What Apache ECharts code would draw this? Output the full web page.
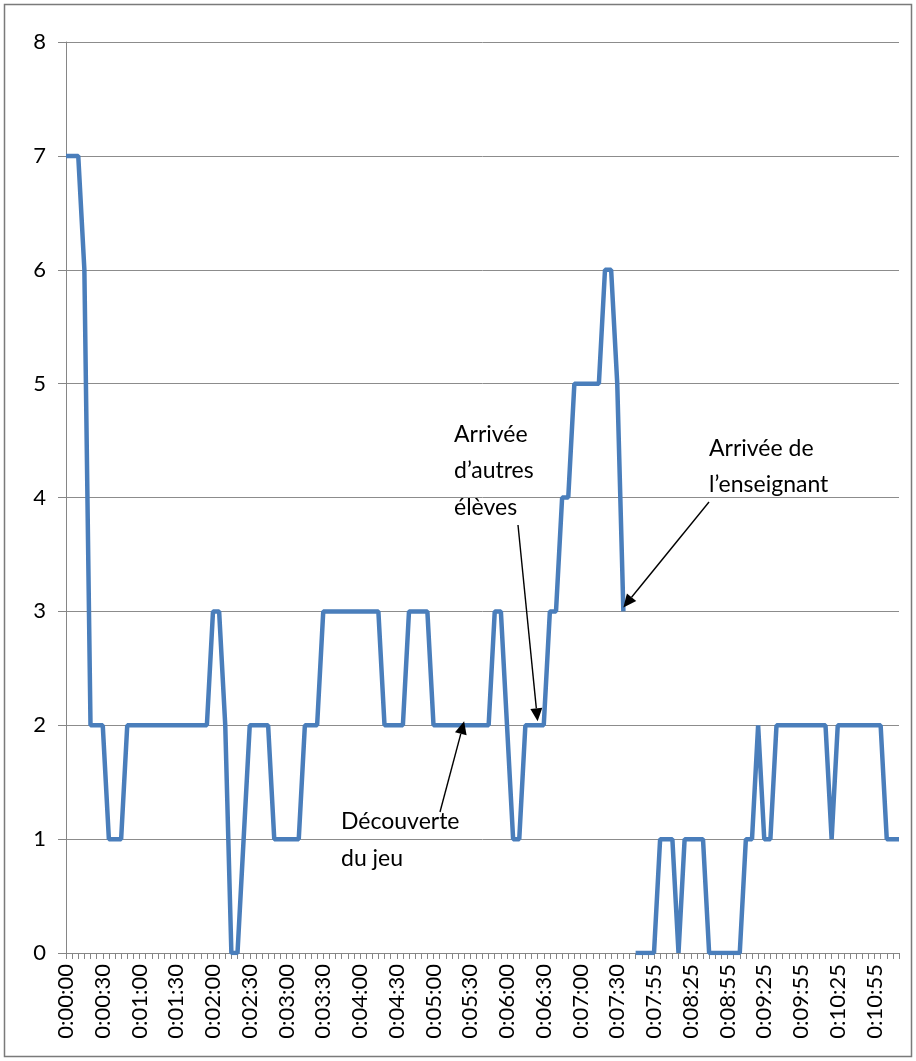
<!DOCTYPE html>
<html>
<head>
<meta charset="utf-8">
<script src="https://cdn.jsdelivr.net/npm/echarts@6/dist/echarts.min.js"></script>
<style>
html,body{margin:0;padding:0;background:#fff;}
#c{width:916px;height:1061px;}
</style>
</head>
<body>
<div id="c"></div>
<script>
// Time categories (5 s steps; one empty row where the recording was interrupted)
const times = [
"0:00:00","0:00:05","0:00:10","0:00:15","0:00:20","0:00:25","0:00:30","0:00:35","0:00:40","0:00:45",
"0:00:50","0:00:55","0:01:00","0:01:05","0:01:10","0:01:15","0:01:20","0:01:25","0:01:30","0:01:35",
"0:01:40","0:01:45","0:01:50","0:01:55","0:02:00","0:02:05","0:02:10","0:02:15","0:02:20","0:02:25",
"0:02:30","0:02:35","0:02:40","0:02:45","0:02:50","0:02:55","0:03:00","0:03:05","0:03:10","0:03:15",
"0:03:20","0:03:25","0:03:30","0:03:35","0:03:40","0:03:45","0:03:50","0:03:55","0:04:00","0:04:05",
"0:04:10","0:04:15","0:04:20","0:04:25","0:04:30","0:04:35","0:04:40","0:04:45","0:04:50","0:04:55",
"0:05:00","0:05:05","0:05:10","0:05:15","0:05:20","0:05:25","0:05:30","0:05:35","0:05:40","0:05:45",
"0:05:50","0:05:55","0:06:00","0:06:05","0:06:10","0:06:15","0:06:20","0:06:25","0:06:30","0:06:35",
"0:06:40","0:06:45","0:06:50","0:06:55","0:07:00","0:07:05","0:07:10","0:07:15","0:07:20","0:07:25",
"0:07:30","0:07:35","","0:07:40","0:07:45","0:07:50","0:07:55","0:08:00","0:08:05","0:08:10",
"0:08:15","0:08:20","0:08:25","0:08:30","0:08:35","0:08:40","0:08:45","0:08:50","0:08:55","0:09:00",
"0:09:05","0:09:10","0:09:15","0:09:20","0:09:25","0:09:30","0:09:35","0:09:40","0:09:45","0:09:50",
"0:09:55","0:10:00","0:10:05","0:10:10","0:10:15","0:10:20","0:10:25","0:10:30","0:10:35","0:10:40",
"0:10:45","0:10:50","0:10:55","0:11:00","0:11:05","0:11:10","0:11:15"
];

// Number of pupils around the game at each instant
const counts = [
7,7,7,6,2,2,2,1,1,1,
2,2,2,2,2,2,2,2,2,2,
2,2,2,2,3,3,2,0,0,1,
2,2,2,2,1,1,1,1,1,2,
2,2,3,3,3,3,3,3,3,3,
3,3,2,2,2,2,3,3,3,3,
2,2,2,2,2,2,2,2,2,2,
3,3,2,1,1,2,2,2,2,3,
3,4,4,5,5,5,5,5,6,6,
5,3,null,0,0,0,0,1,1,1,
0,1,1,1,1,0,0,0,0,0,
0,1,1,2,1,1,2,2,2,2,
2,2,2,2,2,1,2,2,2,2,
2,2,2,2,1,1,1
];

const yTicks = [0,1,2,3,4,5,6,7,8];

// Annotations: text lines, the point the arrow targets [category index, value]
const notes = [
  {lines:["Arrivée","d’autres","élèves"], tip:[77,2]},
  {lines:["Arrivée de","l’enseignant"], tip:[91,3]},
  {lines:["Découverte","du jeu"], tip:[65,2]}
];

const FONT = 'Lato, "Open Sans", sans-serif';
const chart = echarts.init(document.getElementById('c'));
chart.setOption({
  animation:false,
  backgroundColor:'#fff',
  grid:{left:66, right:17, top:42, bottom:108, containLabel:false},
  xAxis:{
    type:'category', data:times, boundaryGap:false,
    axisLine:{show:true, lineStyle:{color:'#868686', width:1}},
    axisTick:{show:true, interval:0, length:6, lineStyle:{color:'#868686'}},
    axisLabel:{interval:5, rotate:90, margin:11, fontSize:22, color:'#000', fontFamily:FONT},
    splitLine:{show:false}
  },
  yAxis:{
    type:'value', min:yTicks[0], max:yTicks[yTicks.length-1], interval:1,
    axisLine:{show:true, lineStyle:{color:'#868686', width:1}},
    axisTick:{show:true, length:8, lineStyle:{color:'#868686'}},
    axisLabel:{margin:20, fontSize:22, color:'#000', fontFamily:FONT},
    splitLine:{show:true, lineStyle:{color:'#8c8c8c', width:1}}
  },
  series:[{
    type:'line', data:counts, showSymbol:false, symbol:'none',
    connectNulls:false,
    lineStyle:{color:'#4A7EBB', width:4.5},
    z:3
  }]
});

// annotation layout (text anchor and arrow tail, in pixels)
const layout = [
  {textX:454, textY:[435,471,508], tail:[518,525]},
  {textX:709, textY:[449,485], tail:[709,502]},
  {textX:341, textY:[822,859], tail:[440,812]}
];

const els = [];
els.push({type:'rect', shape:{x:4.5,y:4.5,width:907,height:1052}, style:{fill:null, stroke:'#7a7a7a', lineWidth:1.5}, z:0, silent:true});
notes.forEach((n,i)=>{
  const L = layout[i];
  const tip = chart.convertToPixel({gridIndex:0}, n.tip);
  tip[1] -= 4;
  n.lines.forEach((t,j)=>{
    els.push({type:'text', x:L.textX, y:L.textY[j], style:{text:t, fill:'#000', font:'23px '+FONT, textVerticalAlign:'middle', textAlign:'left'}, z:10});
  });
  const dx = tip[0]-L.tail[0], dy = tip[1]-L.tail[1];
  const len = Math.sqrt(dx*dx+dy*dy), ux = dx/len, uy = dy/len;
  const hl = 13, hw = 6;
  const bx = tip[0]-ux*hl, by = tip[1]-uy*hl;
  els.push({type:'line', shape:{x1:L.tail[0], y1:L.tail[1], x2:bx, y2:by}, style:{stroke:'#000', lineWidth:1.4}, z:10});
  els.push({type:'polygon', shape:{points:[[tip[0],tip[1]],[bx-uy*hw, by+ux*hw],[bx+uy*hw, by-ux*hw]]}, style:{fill:'#000'}, z:10});
});
chart.setOption({graphic:{elements:els}});
</script>
</body>
</html>
